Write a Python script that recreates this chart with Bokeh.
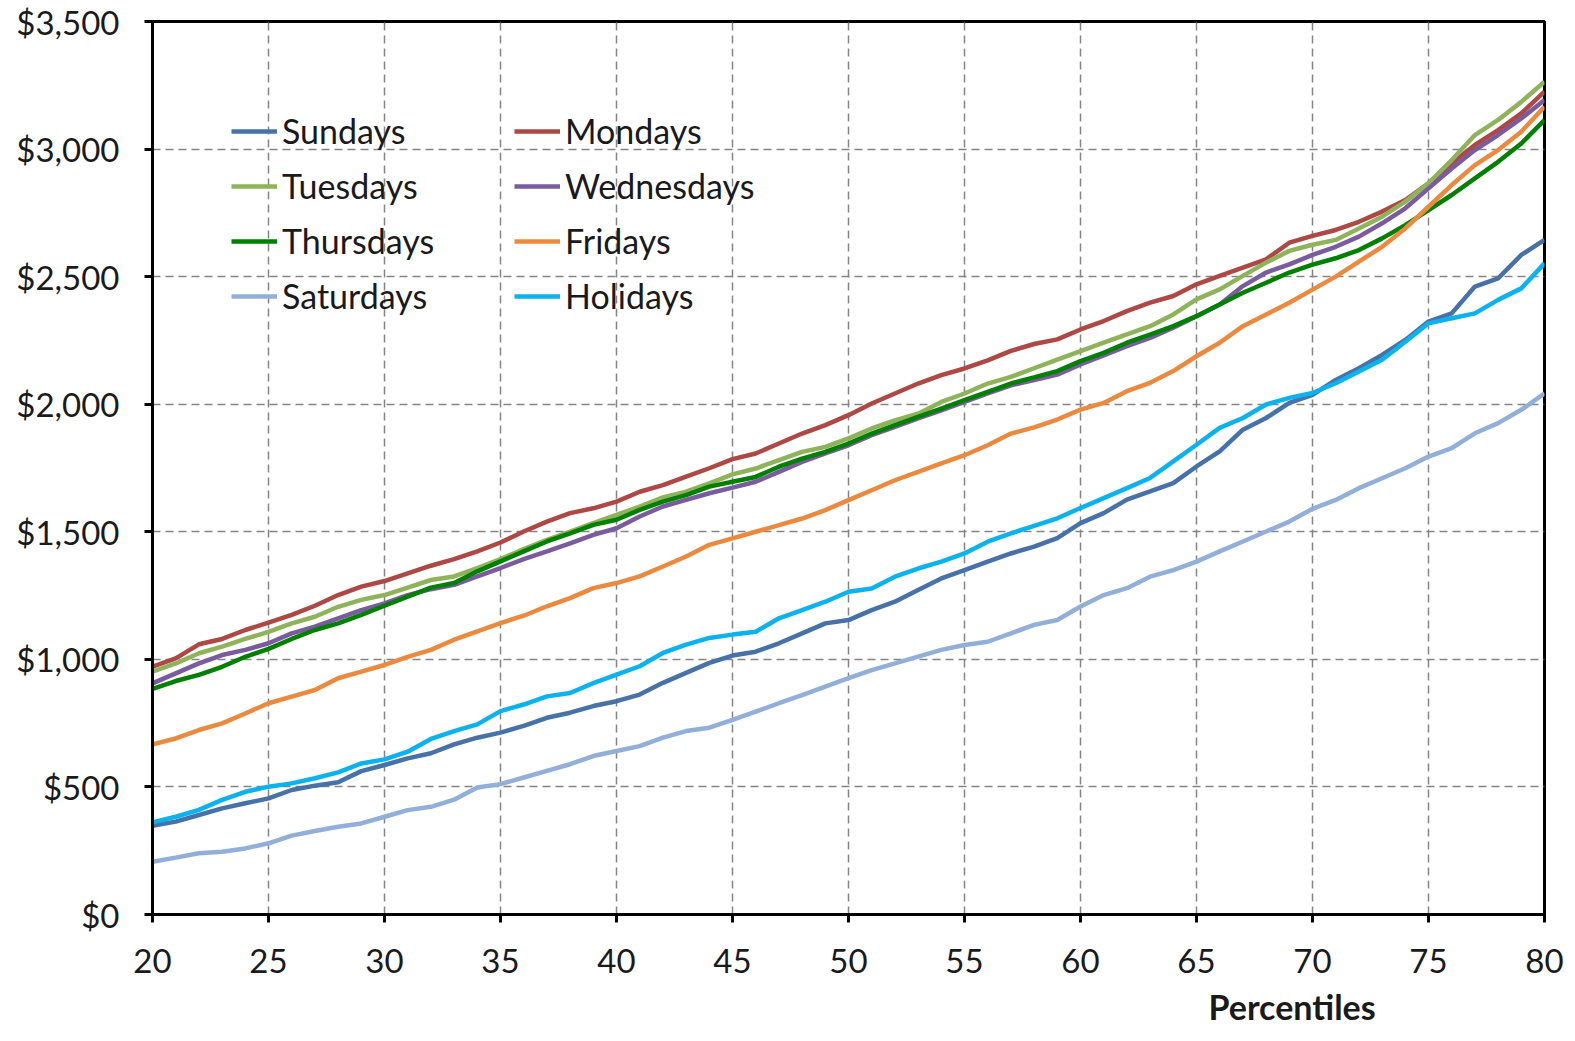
from bokeh.plotting import figure
from bokeh.models import Range1d, NumeralTickFormatter, Legend, LegendItem, Title
from bokeh.embed import file_html
from bokeh.resources import INLINE

percentiles = list(range(20, 81))

sundays = [348, 364, 390, 416, 436, 455, 488, 505, 518, 562, 586, 612, 632,
           667, 693, 713, 739, 771, 791, 817, 836, 862, 908, 947, 986, 1015,
           1030, 1063, 1102, 1141, 1154, 1193, 1226, 1272, 1317, 1350, 1383, 1415, 1442,
           1475, 1534, 1573, 1626, 1658, 1691, 1756, 1815, 1900, 1946, 2005, 2037,
           2095, 2141, 2193, 2252, 2324, 2356, 2461, 2493, 2585, 2644]
mondays = [971, 1004, 1059, 1080, 1115, 1144, 1174, 1210, 1252, 1285, 1307, 1337, 1367,
           1393, 1423, 1458, 1501, 1540, 1573, 1592, 1618, 1657, 1683, 1716, 1749, 1785,
           1807, 1846, 1885, 1918, 1957, 2003, 2042, 2081, 2114, 2140, 2172, 2209, 2236,
           2254, 2293, 2326, 2365, 2398, 2424, 2470, 2503, 2535, 2568, 2633, 2660,
           2683, 2715, 2755, 2800, 2866, 2944, 3016, 3074, 3140, 3225]
tuesdays = [952, 984, 1024, 1050, 1080, 1108, 1141, 1167, 1206, 1233, 1252, 1281, 1311,
            1325, 1358, 1393, 1432, 1468, 1501, 1534, 1566, 1599, 1635, 1657, 1690, 1725,
            1748, 1781, 1813, 1833, 1866, 1905, 1937, 1963, 2009, 2042, 2081, 2107, 2141,
            2175, 2208, 2241, 2274, 2306, 2352, 2411, 2450, 2503, 2555, 2601, 2625,
            2644, 2689, 2735, 2794, 2866, 2957, 3055, 3114, 3185, 3264]
wednesdays = [906, 945, 984, 1017, 1037, 1063, 1102, 1128, 1161, 1193, 1219, 1252, 1275,
              1292, 1325, 1358, 1393, 1423, 1455, 1488, 1514, 1560, 1599, 1625, 1651, 1673,
              1696, 1735, 1774, 1807, 1839, 1879, 1911, 1944, 1976, 2009, 2042, 2074, 2095,
              2116, 2156, 2191, 2228, 2260, 2300, 2345, 2391, 2463, 2516, 2548, 2585,
              2617, 2657, 2709, 2768, 2846, 2924, 2996, 3055, 3120, 3192]
thursdays = [884, 915, 939, 971, 1010, 1041, 1080, 1115, 1141, 1174, 1210, 1246, 1281,
             1299, 1345, 1384, 1423, 1462, 1494, 1527, 1547, 1586, 1618, 1644, 1677, 1696,
             1715, 1755, 1787, 1813, 1846, 1885, 1918, 1950, 1983, 2016, 2048, 2081, 2105,
             2130, 2169, 2201, 2241, 2273, 2306, 2345, 2391, 2437, 2476, 2516, 2547,
             2572, 2604, 2650, 2702, 2761, 2820, 2885, 2950, 3022, 3114]
fridays = [667, 690, 723, 749, 788, 828, 854, 880, 926, 952, 978, 1010, 1037,
           1077, 1110, 1142, 1171, 1208, 1240, 1279, 1299, 1325, 1364, 1403, 1449, 1474,
           1500, 1526, 1552, 1585, 1624, 1663, 1702, 1735, 1768, 1800, 1839, 1885, 1909,
           1940, 1979, 2005, 2051, 2084, 2130, 2188, 2241, 2306, 2352, 2398, 2449,
           2500, 2559, 2617, 2689, 2774, 2859, 2937, 2996, 3068, 3166]
saturdays = [207, 223, 240, 246, 259, 279, 309, 327, 344, 357, 383, 409, 422,
             450, 498, 511, 537, 563, 589, 621, 641, 660, 693, 719, 732, 763,
             795, 828, 860, 893, 926, 958, 984, 1011, 1037, 1056, 1069, 1102, 1135,
             1154, 1207, 1252, 1279, 1324, 1350, 1383, 1423, 1462, 1501, 1540, 1590,
             1625, 1671, 1710, 1749, 1795, 1828, 1886, 1926, 1978, 2043]
holidays = [361, 383, 410, 449, 481, 501, 514, 534, 557, 592, 608, 638, 688,
            719, 745, 797, 823, 855, 868, 907, 940, 973, 1025, 1058, 1084, 1097,
            1108, 1161, 1193, 1226, 1265, 1278, 1324, 1356, 1383, 1415, 1461, 1494, 1523,
            1553, 1593, 1632, 1671, 1711, 1776, 1841, 1907, 1946, 1999, 2025, 2044,
            2082, 2128, 2174, 2245, 2317, 2337, 2356, 2409, 2454, 2552]

x_ticks = list(range(20, 81, 5))
y_ticks = list(range(0, 3501, 500))

series = [
    ("Sundays", sundays, "#4672A8"),
    ("Mondays", mondays, "#AE4845"),
    ("Tuesdays", tuesdays, "#8FB35A"),
    ("Wednesdays", wednesdays, "#7A5C9E"),
    ("Thursdays", thursdays, "#008000"),
    ("Fridays", fridays, "#EB8A3E"),
    ("Saturdays", saturdays, "#91AFD8"),
    ("Holidays", holidays, "#0AB2EE"),
]

FONT = "Lato"

p = figure(width=1570, height=1036, output_backend="svg", toolbar_location=None,
           x_range=Range1d(20, 80), y_range=Range1d(0, 3500),
           min_border_left=152, min_border_right=26, min_border_top=21,
           min_border_bottom=122)
p.background_fill_color = "white"
p.border_fill_color = "white"
p.outline_line_color = "black"
p.outline_line_width = 3

for ax in (p.xaxis, p.yaxis):
    ax.axis_line_color = "black"
    ax.axis_line_width = 3
    ax.major_tick_line_color = "black"
    ax.major_tick_line_width = 3
    ax.major_tick_out = 8
    ax.major_tick_in = 0
    ax.minor_tick_line_color = None
    ax.major_label_text_font = FONT
    ax.major_label_text_font_size = "33px"
    ax.major_label_text_color = "#1a1a1a"

p.xaxis.ticker = x_ticks
p.yaxis.ticker = y_ticks
p.yaxis.formatter = NumeralTickFormatter(format="$0,0")
p.yaxis.major_label_standoff = 25
p.xaxis.major_label_standoff = 26

for g in (p.xgrid, p.ygrid):
    g.grid_line_color = "#858585"
    g.grid_line_width = 1.5
    g.grid_line_dash = "8 5"

renderers = {}
for name, vals, col in series:
    renderers[name] = p.line(percentiles, vals, line_color=col, line_width=4.5)

def make_legend(names, loc):
    leg = Legend(items=[LegendItem(label=n, renderers=[renderers[n]]) for n in names],
                 location=loc, orientation="vertical",
                 label_text_font=FONT, label_text_font_size="34px",
                 label_text_color="#1a1a1a",
                 glyph_width=46, glyph_height=40, label_height=40,
                 spacing=14, padding=0, margin=0, label_standoff=5,
                 border_line_alpha=0, background_fill_alpha=0)
    return leg

p.add_layout(make_legend(["Sundays", "Tuesdays", "Thursdays", "Saturdays"], (79, 598)))
p.add_layout(make_legend(["Mondays", "Wednesdays", "Fridays", "Holidays"], (362, 598)))

p.add_layout(Title(text="Percentiles", align="left", offset=1056,
                   text_font=FONT, text_font_style="bold", text_font_size="34px",
                   text_color="#1a1a1a", standoff=17), "below")

open("out.html", "w").write(file_html(p, INLINE))
